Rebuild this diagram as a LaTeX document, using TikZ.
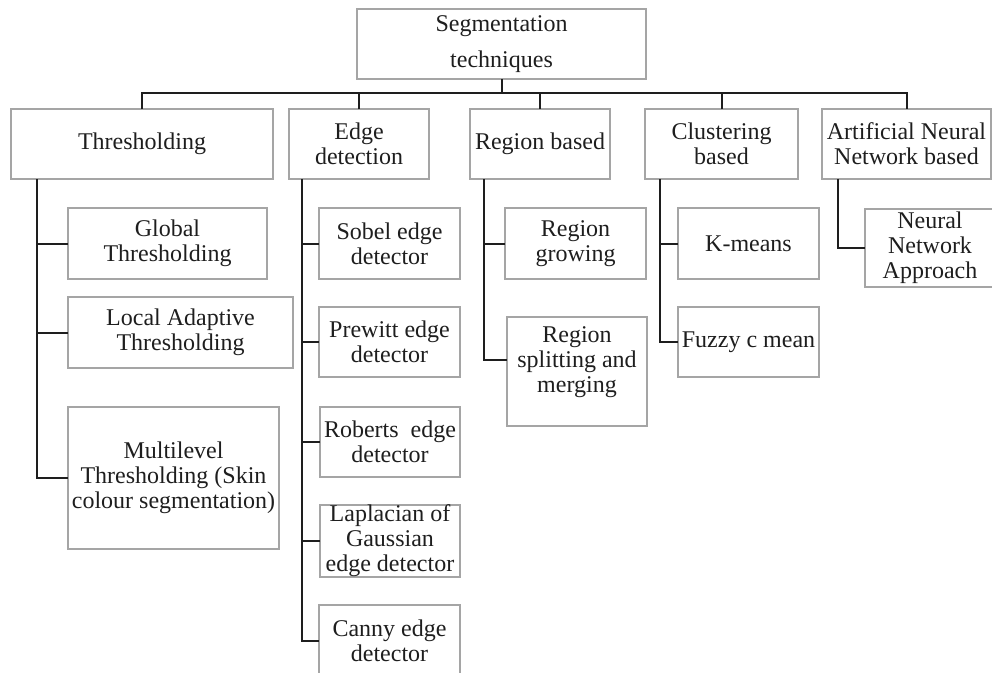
\documentclass[tikz,border=0pt]{standalone}
\usepackage{fontspec}
\setmainfont{Liberation Serif}
\usetikzlibrary{calc}
\definecolor{boxgray}{RGB}{165,165,165}
\definecolor{ink}{RGB}{30,30,30}
\tikzset{
  box/.style={draw=boxgray, line width=1pt, inner sep=0pt, outer sep=0pt,
    align=center, text=ink, font=\fontsize{18}{18.75}\selectfont},
  conn/.style={draw=ink, line width=1.5pt},
}
% \mkbox{name}{x1}{y1}{x2}{y2}{text}: box given by its corners (pixel units)
\newcommand\mkbox[6]{%
  \node[box, minimum width={(#4-#2)*0.75pt}, minimum height={(#5-#3)*0.75pt}]
    (#1) at ({(#2+#4)/2},{(#3+#5)/2}) {#6};}
\begin{document}
\begin{tikzpicture}[x=0.75pt,y=-0.75pt]
\useasboundingbox (0,0) rectangle (992,672);

% root
\mkbox{top}{357}{9}{646}{79}{Segmentation\\[8pt]techniques}

% first level
\mkbox{thr}{11}{109}{273}{179}{Thresholding}
\mkbox{edge}{289}{109}{429}{179}{Edge\\detection}
\mkbox{reg}{470}{109}{610}{179}{Region based}
\mkbox{clu}{645}{109}{798}{179}{Clustering\\based}
\mkbox{ann}{822}{109}{991}{179}{Artificial Neural\\Network based}

% thresholding methods
\mkbox{glob}{68}{208}{267}{279}{Global\\Thresholding}
\mkbox{loc}{68}{297}{293}{368}{Local Adaptive\\Thresholding}
\mkbox{mlt}{68}{407}{279}{549}{Multilevel\\Thresholding (Skin\\colour segmentation)}

% edge detectors
\mkbox{sob}{319}{208}{460}{279}{Sobel edge\\detector}
\mkbox{pre}{319}{307}{460}{377}{Prewitt edge\\detector}
\mkbox{rob}{320}{407}{460}{477}{Roberts~ edge\\detector}
\mkbox{lap}{320}{506}{460}{576}{Laplacian of\\Gaussian\\edge detector}
\mkbox{can}{319}{605}{460}{676}{Canny edge\\detector}

% region based methods
\mkbox{grow}{505}{208}{646}{279}{Region\\growing}
\mkbox{split}{507}{317}{647}{426}{}
\node[box, draw=none] (splitT) at ($(split)+(0,-9.5)$) {Region\\splitting and\\merging};

% clustering methods
\mkbox{km}{678}{208}{819}{279}{K-means}
\mkbox{fuz}{678}{307}{819}{377}{Fuzzy c mean}

% neural network
\mkbox{nn}{865}{209}{995}{287}{Neural\\Network\\Approach}

% root to first level
\draw[conn] (top.south) -- ++(0,14) coordinate (bus);
\draw[conn] (thr.north) -- (thr.north |- bus) -- (ann.north |- bus) -- (ann.north);
\foreach \n in {edge,reg,clu} \draw[conn] (\n.north) -- (\n.north |- bus);

% thresholding trunk
\coordinate (thrT) at ($(thr.south west)+(26,0)$);
\draw[conn] (thrT) |- (mlt.west);
\foreach \c in {glob,loc} \draw[conn] (\c.west) -- (\c.west -| thrT);

% edge detection trunk
\coordinate (edgeT) at ($(edge.south west)+(13,0)$);
\draw[conn] (edgeT) |- (can.west);
\foreach \c in {sob,pre,rob,lap} \draw[conn] (\c.west) -- (\c.west -| edgeT);

% region trunk
\coordinate (regT) at ($(reg.south west)+(14,0)$);
\draw[conn] (regT) |- ($(split.west)+(0,-11.5)$);
\draw[conn] (grow.west) -- (grow.west -| regT);

% clustering trunk
\coordinate (cluT) at ($(clu.south west)+(15,0)$);
\draw[conn] (cluT) |- (fuz.west);
\draw[conn] (km.west) -- (km.west -| cluT);

% neural network link
\coordinate (annT) at ($(ann.south west)+(16,0)$);
\draw[conn] (annT) |- (nn.west);
\end{tikzpicture}
\end{document}
